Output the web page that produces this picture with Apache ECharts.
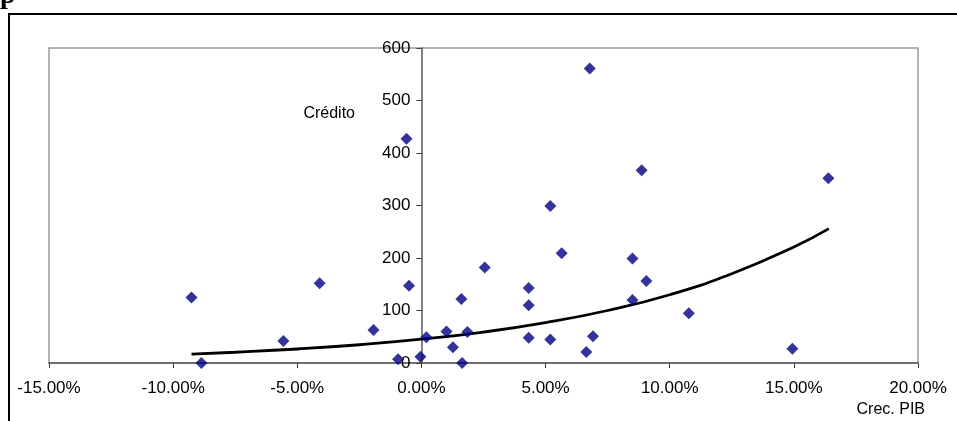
<!DOCTYPE html>
<html>
<head>
<meta charset="utf-8">
<script src="https://cdn.jsdelivr.net/npm/echarts@6/dist/echarts.min.js"></script>
<style>
  html, body { margin: 0; padding: 0; background: #fff; }
  #chart { width: 957px; height: 421px; }
</style>
</head>
<body>
<div id="chart"></div>
<script>
// GDP growth (%) per country-year and the matching credit value
const gdpGrowth = [-9.26, -8.86, -5.56, -4.10, -1.93, -0.94, -0.60, -0.50, -0.04, 0.20,
                   1.01, 1.27, 1.61, 1.64, 1.85, 2.55, 4.32, 4.32, 4.32, 5.19,
                   5.19, 5.65, 6.64, 6.78, 6.91, 8.50, 8.50, 8.87, 9.06, 10.77,
                   14.94, 16.39];
const credit = [125, 0, 42, 152, 63, 7, 427, 147, 12, 49,
                60, 30, 122, 0, 59, 182, 143, 110, 48, 299,
                45, 209, 21, 561, 51, 199, 120, 367, 156, 95,
                27, 352];

// Exponential trend line, sampled along its course
const trendX = [-9.26, -7.5, -5, -2.5, 0, 2.5, 5, 7.5, 10, 12.5, 15, 16.41];
const trendY = [17, 20.5, 26.7, 34.8, 45.3, 59, 77, 100, 130, 170, 221, 256];

// Axis settings
const xTicks = { min: -15, max: 20, step: 5 };
const yTicks = { min: 0, max: 600, step: 100 };

const FONT = '"Liberation Sans", Arial, sans-serif';
const GRID = { left: 49, right: 39, top: 48, bottom: 58 };

const points = gdpGrowth.map((g, i) => [g, credit[i]]);
const trend = trendX.map((x, i) => [x, trendY[i]]);

const chart = echarts.init(document.getElementById('chart'), null, { renderer: 'canvas' });

chart.setOption({
  backgroundColor: '#ffffff',
  animation: false,
  grid: {
    left: GRID.left, right: GRID.right, top: GRID.top, bottom: GRID.bottom,
    show: true,
    borderColor: '#9a9a9a',
    borderWidth: 1.5,
    backgroundColor: 'transparent'
  },
  xAxis: {
    type: 'value',
    min: xTicks.min, max: xTicks.max, interval: xTicks.step,
    splitLine: { show: false },
    axisLine: { show: true, onZero: false, lineStyle: { color: '#5a5a5a', width: 1.5 } },
    axisTick: { show: true, inside: false, length: 5, lineStyle: { color: '#3a3a3a', width: 1 } },
    axisLabel: {
      margin: 17,
      color: '#000',
      fontFamily: FONT,
      fontSize: 17,
      showMinLabel: true, showMaxLabel: true,
      formatter: v => v.toFixed(2) + '%'
    }
  },
  yAxis: {
    type: 'value',
    position: 'left',
    min: yTicks.min, max: yTicks.max, interval: yTicks.step,
    splitLine: { show: false },
    axisLine: { show: true, onZero: false, lineStyle: { color: '#5a5a5a', width: 1.5 } },
    axisTick: { show: true, inside: false, length: 5, lineStyle: { color: '#3a3a3a', width: 1 } },
    axisLabel: {
      margin: 11,
      color: '#000',
      fontFamily: FONT,
      fontSize: 17
    }
  },
  series: [
    {
      name: 'Crédito',
      type: 'scatter',
      data: points,
      symbol: 'diamond',
      symbolSize: [12, 12],
      itemStyle: { color: '#000080' },
      clip: false,
      z: 3
    },
    {
      name: 'Tendencia',
      type: 'line',
      data: trend,
      smooth: true,
      showSymbol: false,
      symbol: 'none',
      lineStyle: { color: '#000000', width: 2.8 },
      z: 2
    }
  ],
  graphic: [
    {
      type: 'rect',
      shape: { x: 9, y: 14, width: 980, height: 440 },
      style: { fill: 'none', stroke: '#000000', lineWidth: 2 },
      silent: true,
      z: 1
    },
    {
      type: 'text',
      left: 0, top: -18,
      style: {
        text: 'p',
        font: 'bold 28px "Liberation Serif", "Times New Roman", serif',
        fill: '#000'
      },
      silent: true
    },
    {
      type: 'text',
      x: 355, y: 114,
      style: {
        text: 'Crédito',
        font: '16px ' + FONT,
        fill: '#000',
        textAlign: 'right',
        textVerticalAlign: 'middle'
      },
      silent: true
    },
    {
      type: 'text',
      x: 925, y: 410,
      style: {
        text: 'Crec. PIB',
        font: '16px ' + FONT,
        fill: '#000',
        textAlign: 'right',
        textVerticalAlign: 'middle'
      },
      silent: true
    }
  ]
});

// Move the vertical axis (line, ticks and labels) onto x = 0
const zeroX = chart.convertToPixel({ gridIndex: 0 }, [0, 0])[0];
chart.setOption({ yAxis: { offset: -(zeroX - GRID.left) } });
</script>
</body>
</html>
